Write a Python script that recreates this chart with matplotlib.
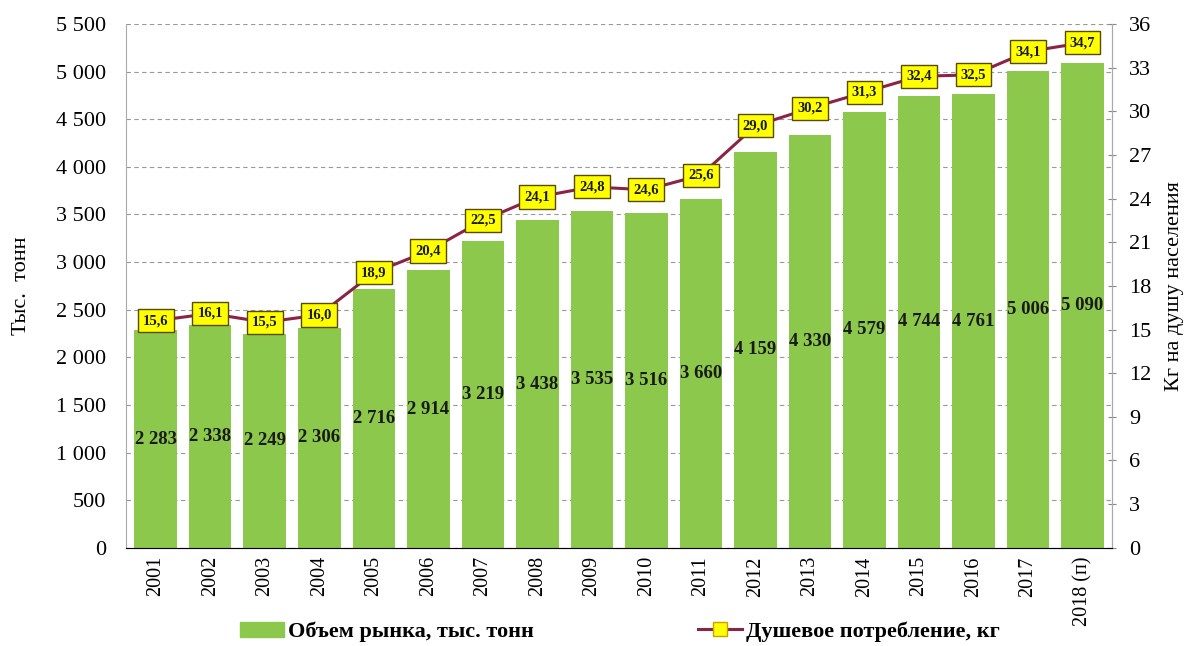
import numpy as np
import matplotlib
matplotlib.use("Agg")
import matplotlib.pyplot as plt
from matplotlib.lines import Line2D
from matplotlib.patches import Patch

years = ["2001", "2002", "2003", "2004", "2005", "2006", "2007", "2008", "2009",
         "2010", "2011", "2012", "2013", "2014", "2015", "2016", "2017", "2018 (п)"]
market = [2283, 2338, 2249, 2306, 2716, 2914, 3219, 3438, 3535,
          3516, 3660, 4159, 4330, 4579, 4744, 4761, 5006, 5090]
per_capita = [15.6, 16.1, 15.5, 16.0, 18.9, 20.4, 22.5, 24.1, 24.8,
              24.6, 25.6, 29.0, 30.2, 31.3, 32.4, 32.5, 34.1, 34.7]

plt.rcParams['font.family'] = ['Liberation Serif', 'DejaVu Serif']

bar_color = '#8cc84b'
line_color = '#8b2346'


def fmt_thousands(v):
    return f"{v:,}".replace(",", " ")


fig = plt.figure(figsize=(11.86, 6.46), dpi=100)
ax = fig.add_axes([0.106, 0.152, 0.832, 0.811])
x = np.arange(len(years))

ax.bar(x, market, width=0.78, color=bar_color, zorder=2)
for xi, v in zip(x, market):
    ax.text(xi, v / 2, fmt_thousands(v), ha='center', va='center',
            fontsize=13.5, fontweight='bold', color='#1a1a1a', zorder=3)

ax.set_ylim(0, 5500)
ax.set_yticks(np.arange(0, 5501, 500))
ax.set_yticklabels([fmt_thousands(v) for v in range(0, 5501, 500)], fontsize=16)
ax.set_xlim(-0.55, len(years) - 0.45)
ax.set_xticks(x)
ax.set_xticklabels(years, rotation=90, fontsize=14.5)
ax.tick_params(axis='x', length=0, pad=6)
ax.tick_params(axis='y', length=0, pad=14)
ax.grid(axis='y', linestyle=(0, (4, 3)), color='#999999', linewidth=0.8, zorder=0)
ax.set_axisbelow(True)
ax.spines['top'].set_visible(False)
ax.spines['left'].set_color('#aaaaaa')
ax.spines['right'].set_color('#aaaaaa')
ax.spines['bottom'].set_color('#888888')
ax.set_ylabel("Тыс.  тонн", fontsize=16)
ax.yaxis.set_label_coords(-0.096, 0.5)

ax2 = ax.twinx()
ax2.plot(x, per_capita, color=line_color, linewidth=2.2, zorder=4)
for xi, v in zip(x, per_capita):
    ax2.annotate(f"{v:.1f}".replace(".", ","), (xi, v), ha='center', va='center',
                 fontsize=10.5, fontweight='bold', color='#1a1a1a', zorder=5,
                 bbox=dict(boxstyle='square,pad=0.35', fc='#ffff00', ec='#5a4a00', lw=1))
ax2.set_ylim(0, 36)
ax2.set_yticks(np.arange(0, 37, 3))
ax2.tick_params(axis='y', labelsize=16, direction='inout', length=6, color='#888888', pad=9)
ax2.spines['top'].set_visible(False)
ax2.spines['right'].set_color('#aaaaaa')
ax2.spines['left'].set_visible(False)
ax2.set_ylabel("Кг на душу населения", fontsize=16)
ax2.yaxis.set_label_coords(1.053, 0.5)

handles = [Patch(color=bar_color),
           Line2D([0], [0], color=line_color, lw=2.2, marker='s', markersize=10,
                  markerfacecolor='#ffff00', markeredgecolor='#c8a000')]
fig.legend(handles, ["Объем рынка, тыс. тонн", "Душевое потребление, кг"],
           loc='center', bbox_to_anchor=(0.5225, 0.022), ncol=2, frameon=False,
           prop={'size': 16, 'weight': 'bold'}, columnspacing=7.4,
           handlelength=2.0, handletextpad=0.15)

fig.savefig("out.png", dpi=100)
